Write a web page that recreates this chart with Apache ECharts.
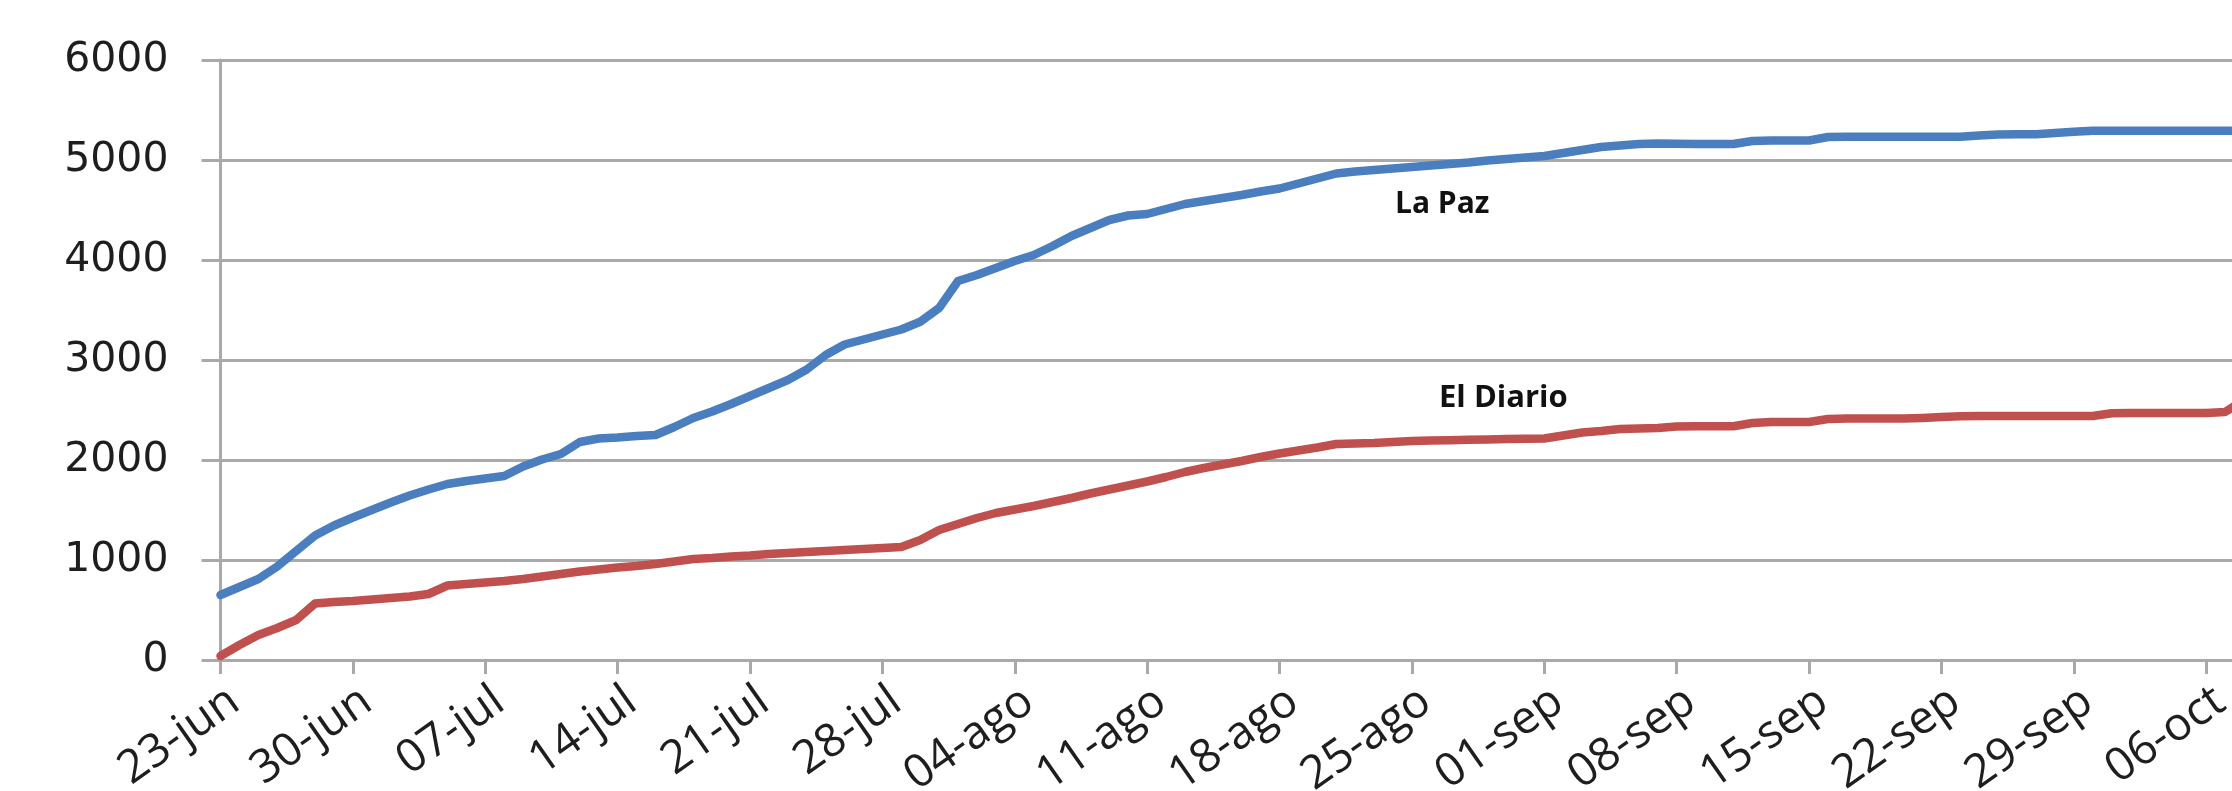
<!DOCTYPE html>
<html>
<head>
<meta charset="utf-8">
<script src="https://cdn.jsdelivr.net/npm/echarts@6/dist/echarts.min.js"></script>
<style>
html,body{margin:0;padding:0;background:#fff;}
#chart{width:2232px;height:791px;}
</style>
</head>
<body>
<div id="chart"></div>
<script>
var categories = [
 '23-jun','24-jun','25-jun','26-jun','27-jun','28-jun','29-jun','30-jun',
 '01-jul','02-jul','03-jul','04-jul','05-jul','06-jul','07-jul','08-jul','09-jul','10-jul',
 '11-jul','12-jul','13-jul','14-jul','15-jul','16-jul','17-jul','18-jul','19-jul','20-jul',
 '21-jul','22-jul','23-jul','24-jul','25-jul','26-jul','27-jul','28-jul','29-jul','30-jul','31-jul',
 '01-ago','02-ago','03-ago','04-ago','05-ago','06-ago','07-ago','08-ago','09-ago','10-ago',
 '11-ago','12-ago','13-ago','14-ago','15-ago','16-ago','17-ago','18-ago','19-ago','20-ago',
 '21-ago','22-ago','23-ago','24-ago','25-ago','26-ago','27-ago','28-ago','29-ago','30-ago','31-ago',
 '01-sep','02-sep','03-sep','04-sep','05-sep','06-sep','07-sep','08-sep','09-sep','10-sep',
 '11-sep','12-sep','13-sep','14-sep','15-sep','16-sep','17-sep','18-sep','19-sep','20-sep',
 '21-sep','22-sep','23-sep','24-sep','25-sep','26-sep','27-sep','28-sep','29-sep','30-sep',
 '01-oct','02-oct','03-oct','04-oct','05-oct','06-oct','07-oct','08-oct'
];

var laPaz = [
 650,730,810,935,1090,1245,1345,1425,1500,1575,
 1645,1705,1760,1790,1815,1840,1935,2005,2060,2180,
 2215,2225,2240,2250,2330,2420,2485,2560,2640,2720,
 2800,2905,3050,3155,3205,3255,3305,3383,3520,3790,
 3850,3920,3990,4050,4140,4240,4320,4400,4445,4460,
 4510,4560,4590,4620,4650,4685,4715,4765,4815,4865,
 4885,4900,4915,4930,4945,4960,4975,4995,5010,5025,
 5040,5070,5100,5130,5145,5160,5165,5162,5160,5160,
 5160,5190,5195,5195,5195,5230,5232,5232,5232,5232,
 5232,5232,5232,5245,5255,5257,5257,5270,5282,5292,
 5292,5292,5292,5292,5292,5292,5292,5292
];

var elDiario = [
 40,150,250,320,400,565,580,590,605,620,
 635,660,745,760,775,790,810,835,860,885,
 905,925,940,960,985,1010,1020,1035,1045,1060,
 1070,1080,1090,1100,1110,1120,1130,1200,1300,1360,
 1420,1470,1505,1540,1580,1620,1665,1705,1745,1785,
 1830,1880,1920,1955,1990,2030,2065,2095,2125,2160,
 2165,2170,2180,2190,2195,2198,2202,2206,2210,2212,
 2215,2245,2275,2290,2310,2315,2320,2335,2338,2338,
 2338,2370,2380,2380,2380,2410,2414,2414,2414,2414,
 2420,2430,2438,2440,2440,2440,2440,2440,2440,2440,
 2468,2470,2470,2470,2470,2470,2480,2600
];

var yTicks = { min: 0, max: 6000, interval: 1000 };
var seriesNames = ['La Paz', 'El Diario'];

var gridGray = '#a9a9a9';
var labelShift = 1;
var chart = echarts.init(document.getElementById('chart'), null, { renderer: 'canvas' });
chart.setOption({
  animation: false,
  backgroundColor: '#ffffff',
  grid: [
    { left: 220.5, right: -12, top: 60, bottom: 131, containLabel: false, outerBoundsMode: 'none' },
    { left: 220.5 + labelShift, right: -12 - labelShift, top: 60, bottom: 131, containLabel: false, outerBoundsMode: 'none' }
  ],
  xAxis: [
    {
      type: 'category', gridIndex: 0,
      data: categories,
      boundaryGap: false,
      axisLine: { show: true, lineStyle: { color: gridGray, width: 3 } },
      axisTick: { show: true, interval: 6, length: 14, lineStyle: { color: gridGray, width: 3 } },
      axisLabel: { show: false },
      splitLine: { show: false }
    },
    {
      type: 'category', gridIndex: 1,
      data: categories,
      boundaryGap: false,
      axisLine: { show: false },
      axisTick: { show: false },
      axisLabel: {
        interval: 6, rotate: 35, margin: 18, verticalAlign: 'top',
        fontFamily: 'Open Sans', fontSize: 46, color: '#1e1e1e', hideOverlap: false
      },
      splitLine: { show: false }
    }
  ],
  yAxis: [
    {
      type: 'value', gridIndex: 0,
      min: yTicks.min, max: yTicks.max, interval: yTicks.interval,
      axisLine: { show: true, lineStyle: { color: gridGray, width: 3 } },
      axisTick: { show: true, length: 19, lineStyle: { color: gridGray, width: 3 } },
      axisLabel: {
        margin: 52, fontFamily: 'DejaVu Sans', fontSize: 41, color: '#1e1e1e',
        padding: [8, 0, 0, 0],
        formatter: function (v) { return String(v); }
      },
      splitLine: { show: true, lineStyle: { color: gridGray, width: 3 } }
    },
    {
      type: 'value', gridIndex: 1, show: false,
      min: yTicks.min, max: yTicks.max, interval: yTicks.interval,
      splitLine: { show: false }
    }
  ],
  series: [
    {
      name: seriesNames[0], type: 'line', data: laPaz, showSymbol: false, symbol: 'none',
      xAxisIndex: 0, yAxisIndex: 0,
      lineStyle: { color: '#4a7ebf', width: 8.5, cap: 'round', join: 'round' },
      itemStyle: { color: '#4a7ebf' }, z: 3
    },
    {
      name: seriesNames[1], type: 'line', data: elDiario, showSymbol: false, symbol: 'none',
      xAxisIndex: 0, yAxisIndex: 0,
      lineStyle: { color: '#c0504d', width: 8.5, cap: 'round', join: 'round' },
      itemStyle: { color: '#c0504d' }, z: 3
    }
  ],
  graphic: [
    { type: 'text', left: 1395, top: 189,
      style: { text: seriesNames[0], fontFamily: 'Open Sans', fontWeight: 'bold', fontSize: 30, fill: '#111111' } },
    { type: 'text', left: 1439, top: 383,
      style: { text: seriesNames[1], fontFamily: 'Open Sans', fontWeight: 'bold', fontSize: 31, fill: '#111111' } }
  ]
});
</script>
</body>
</html>
